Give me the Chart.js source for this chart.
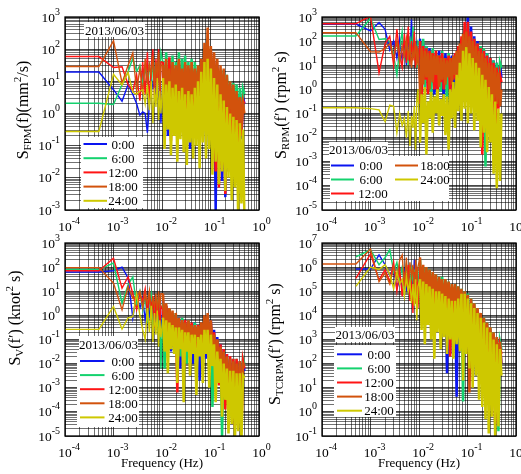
<!DOCTYPE html>
<html lang="en">
<head>
<meta charset="UTF-8">
<title>Spectra 2013/06/03</title>
<style>
  body { margin: 0; background: #fff; }
  .wrap { position: relative; width: 521px; height: 474px; }
  canvas { position: absolute; left: 0; top: 0; }
</style>
</head>
<body>
<div class="wrap">
  <canvas id="fpm" width="521" height="474"></canvas>
  <canvas id="rpm" width="521" height="474"></canvas>
  <canvas id="vel" width="521" height="474"></canvas>
  <canvas id="tcr" width="521" height="474"></canvas>
</div>
<script src="https://cdn.jsdelivr.net/npm/chart.js@4.4.1/dist/chart.umd.min.js"></script>
<script>
const hours = ['0:00', '6:00', '12:00', '18:00', '24:00'];
const colors = ['#0a14f0', '#14d26e', '#ff1414', '#d2520c', '#cec800'];
const xDecades = [-4, -3, -2, -1, 0];

// frequency (Hz) of every point
const freqs = [0.0001, 0.0005, 0.001, 0.0015, 0.002, 0.0025, 0.003, 0.0035, 0.004, 0.0045,
  0.005, 0.0055, 0.006, 0.0065, 0.007, 0.0075, 0.008, 0.0085, 0.009, 0.0095,
  0.0105, 0.0113, 0.0122, 0.0132, 0.0142, 0.0153, 0.0165, 0.0178, 0.0192, 0.0207,
  0.0223, 0.024, 0.026, 0.028, 0.03, 0.0325, 0.035, 0.0378, 0.0408, 0.044,
  0.0475, 0.0512, 0.0553, 0.0597, 0.0644, 0.0695, 0.075, 0.081, 0.0873, 0.0942,
  0.1017, 0.1097, 0.1184, 0.1278, 0.138, 0.149, 0.161, 0.173, 0.187, 0.202,
  0.218, 0.235, 0.254, 0.274, 0.296, 0.319, 0.345, 0.372, 0.402, 0.434,
  0.468, 0.5];

// spectra, given as log10 of S(f), one array per time
// S_FPM
const fpm00 = [1.29, 1.29, 0.74, 0.38, 0.9, 0.6, 0.3, -0.05, 0.05, 0.0, -0.6, 0.3, 1.1, 0.8, 1.0, 0.4, 0.9, 0.2, 0.9, -0.3,
  1.3, -0.2, 1.4, -0.7, 1.2, 0.0, 1.5, -0.3, 1.3, 0.2, 1.4, -0.5, 1.2, 0.0, 1.3, -0.4, 1.1, -1.1, 1.2, -0.3,
  1.1, -0.5, 1.2, -0.9, 1.4, -0.2, 1.8, -1.0, 2.1, -0.4, 1.9, -0.6, 1.6, -3.0, 1.5, -1.5, 1.3, -2.1, 1.2, -2.6,
  1.0, -1.8, 0.9, -1.5, 0.8, -1.2, 0.7, -1.0, 0.6, -0.8, 0.5, 0.3];
const fpm06 = [0.32, 0.32, 0.28, 0.9, 1.3, 1.72, 1.3, 1.5, 0.9, 1.4, 1.0, 1.6, 0.7, 1.8, 1.0, 1.5, 0.5, 1.7, 0.8, 1.9,
  1.6, 0.2, 1.9, -0.4, 1.7, 0.4, 1.8, 0.0, 1.6, 0.5, 1.9, 0.1, 1.7, 0.3, 1.8, -0.2, 1.6, 0.2, 1.7, 0.0,
  1.6, 0.3, 1.5, -0.1, 1.5, 0.4, 1.6, 0.2, 1.7, 0.5, 1.6, 0.3, 1.5, 0.2, 1.4, 0.0, 1.3, -0.3, 1.35, 0.1,
  1.2, -0.2, 1.0, -0.4, 0.95, -0.3, 0.9, -0.6, 0.8, -0.5, 0.75, 0.6];
const fpm12 = [1.77, 1.77, 1.43, 1.45, 0.9, 0.7, 1.2, 0.4, 1.6, 0.6, 1.9, 0.3, 1.5, 2.0, 0.5, 1.7, 0.8, 2.0, 0.2, 1.6,
  1.6, -0.3, 1.4, 0.4, 1.75, -0.85, 1.5, 0.2, 1.4, -0.5, 1.6, 0.3, 1.3, -0.2, 1.5, 0.1, 1.4, -0.6, 1.3, 0.2,
  1.2, -0.3, 1.3, 0.0, 1.5, -0.4, 1.9, 0.2, 2.2, -0.5, 1.9, -1.2, 1.6, -1.8, 1.4, -2.3, 1.2, -1.6, 1.1, -2.5,
  0.9, -1.4, 0.8, -1.0, 0.7, -0.9, 0.6, -1.2, 0.5, -0.7, 0.4, 0.3];
const fpm18 = [1.46, 1.46, 2.26, 0.95, 1.5, 1.88, 0.7, 1.4, 0.6, 1.7, 0.9, 1.5, 1.2, 1.8, 0.8, 1.6, 1.1, 1.9, 0.7, 1.5,
  1.5, 0.3, 1.7, 0.5, 1.4, 0.1, 1.6, 0.4, 1.5, 0.2, 1.7, 0.5, 1.4, 0.0, 1.6, 0.4, 1.5, 0.2, 1.6, 0.5,
  1.4, 0.3, 1.5, 0.6, 1.7, 0.4, 2.2, 0.8, 2.67, 0.6, 2.1, 0.5, 1.9, 0.4, 1.7, 0.3, 1.5, 0.2, 1.4, 0.1,
  1.2, 0.0, 1.0, -0.2, 0.9, -0.3, 0.7, -0.4, 0.5, -0.5, 0.3, 0.0];
const fpm24 = [-0.56, -0.56, 1.22, 0.89, 1.28, 0.66, 0.6, 0.7, 0.74, 0.3, 0.9, 0.1, 1.0, -0.3, 0.8, 0.2, 1.1, -0.2, 0.7, 0.0,
  1.1, -1.1, 0.9, -0.5, 1.0, -1.3, 0.8, -0.7, 0.9, -1.5, 0.7, -0.8, 0.8, -1.2, 0.6, -1.6, 0.7, -0.9, 0.6, -1.4,
  0.8, -1.0, 1.0, -1.7, 1.3, -0.9, 1.6, -1.4, 1.7, -1.1, 1.4, -1.9, 1.1, -1.5, 0.9, -2.2, 0.6, -1.8, 0.4, -2.4,
  0.2, -2.0, 0.0, -2.7, -0.1, -2.3, -0.2, -3.2, -0.3, -2.8, -0.5, -3.2];

// S_RPM
const rpm00 = [2.71, 2.71, 2.42, 2.77, 2.49, 1.63, 2.0, 1.3, 2.1, 1.2, 1.8, 1.0, 2.3, 1.4, 2.9, 1.5, 2.2, 1.1, 2.0, 1.3,
  2.1, 0.3, 1.9, 0.8, 1.8, 0.0, 1.7, 0.6, 1.6, -0.2, 1.5, 0.4, 1.6, 0.1, 1.4, -0.3, 1.5, 0.5, 1.3, 0.0,
  1.4, -0.4, 1.5, 0.2, 1.7, -0.2, 2.0, 0.5, 2.5, 0.3, 3.0, 0.6, 2.6, 0.2, 2.2, -0.5, 2.0, 0.0, 1.8, -0.6,
  1.6, -0.2, 1.5, -1.0, 1.3, -0.4, 1.2, -1.2, 1.1, -0.6, 1.0, 0.5];
const rpm06 = [2.21, 2.21, 2.95, 2.07, 2.1, 1.98, 1.4, 0.6, 1.7, 2.4, 1.2, 2.0, 1.0, 2.2, 1.5, 2.6, 1.3, 1.9, 0.9, 2.0,
  1.9, 0.5, 2.1, 0.0, 1.8, 0.7, 1.6, -0.3, 1.7, 0.3, 1.5, 0.8, 1.4, -0.1, 1.6, 0.4, 1.3, -0.5, 1.5, 0.2,
  1.3, 0.5, 1.4, -0.2, 1.6, 0.3, 2.1, 0.6, 2.6, 0.1, 2.7, 0.4, 2.3, -0.3, 2.1, 0.2, 1.9, -0.5, 1.8, 0.0,
  1.7, -3.2, 1.5, -0.8, 1.3, -0.3, 1.2, -1.5, 1.1, -0.7, 1.1, 0.9];
const rpm12 = [2.72, 2.72, 3.04, 0.69, 1.89, 2.2, 1.0, 2.5, 1.4, 0.93, 2.3, 1.1, 2.6, 1.0, 2.0, 1.2, 2.4, 0.9, 1.8, 1.1,
  2.0, -0.3, 1.8, 0.4, 1.7, -0.2, 1.6, 0.5, 1.5, 0.0, 1.6, -0.3, 1.4, 0.3, 1.5, 0.0, 1.3, 0.6, 1.4, -0.2,
  1.3, 0.4, 1.5, 0.1, 1.8, 0.5, 2.2, 0.2, 2.8, 0.6, 2.8, 0.3, 2.4, 0.0, 2.1, -0.4, 1.9, 0.1, 1.7, -2.7,
  1.6, -0.6, 1.4, -1.0, 1.3, -0.5, 1.1, -2.6, 0.9, -0.8, 0.6, 0.3];
const rpm18 = [2.35, 2.35, 1.56, 1.55, 1.7, 1.9, 1.3, 2.0, 1.1, 1.8, 1.4, 2.1, 1.2, 1.9, 0.9, 1.6, 1.3, 2.0, 1.0, 1.7,
  -0.6, 1.7, 0.2, 1.6, 0.5, 1.5, 0.0, 1.5, 0.3, 1.4, 0.6, 1.4, 0.1, 1.3, 0.4, 1.3, 0.2, 1.2, 0.5, 1.3,
  0.2, 1.4, 0.6, 1.6, 0.3, 1.9, 0.8, 2.3, 0.7, 2.4, 0.5, 2.2, 0.4, 2.0, 0.3, 1.8, 0.1, 1.6, 0.0, 1.5,
  -0.1, 1.3, -0.3, 1.1, -0.4, 1.0, -0.5, 0.9, -0.6, 0.7, -0.7, 0.0];
const rpm24 = [-0.76, -0.76, -0.8, -0.85, -1.34, -0.65, -0.7, -1.8, -1.0, -1.5, -1.2, -2.0, -0.9, -2.35, -1.1, -1.6, -0.7, -2.5, -0.5, 0.0,
  -2.2, -0.2, -1.4, 0.1, -2.7, -0.5, -1.2, -0.1, -1.8, -0.3, -1.0, 0.0, -1.5, -0.4, -1.1, -0.2, -1.9, -0.3, -2.5, 0.0,
  -1.2, 0.3, -1.6, 0.6, -0.9, 1.1, -1.3, 1.6, -0.8, 1.75, -1.4, 1.5, -1.0, 1.3, -1.7, 1.1, -1.3, 0.9, -2.4, 0.6,
  -1.8, 0.4, -2.6, 0.1, -2.2, -0.2, -3.5, -0.5, -4.1, -0.8, -3.8, -1.0];

// S_V
const vel00 = [1.8, 1.8, 1.85, 2.0, 1.55, -0.1, 0.9, 0.3, 0.7, -0.2, 0.5, 0.0, 0.8, -0.4, 0.6, -0.6, 0.4, -0.3, 0.5, -0.8,
  0.6, -1.2, 0.4, -0.8, 0.3, -1.5, 0.1, -1.0, 0.0, -1.6, -0.1, -2.2, -0.2, -1.3, -0.3, -1.8, -0.2, -1.4, -0.4, -2.0,
  -0.3, -1.5, -0.5, -2.7, -0.4, -1.6, -0.2, -1.8, -0.3, -1.2, -0.2, -1.9, -0.6, -2.1, -0.9, -2.6, -1.2, -3.0, -1.4, -3.3,
  -1.6, -3.6, -1.8, -4.0, -1.9, -3.8, -1.9, -4.3, -1.9, -4.1, -1.9, -2.3];
const vel06 = [1.9, 1.9, 2.17, 0.5, 1.27, 1.6, 0.4, 1.0, 0.2, 0.8, -0.3, 0.6, 0.9, -0.5, 0.5, 0.0, 0.7, -0.7, 0.3, -2.2,
  0.5, -2.2, 0.2, -1.2, 0.3, -0.9, 0.0, -1.5, 0.1, -1.0, -0.2, -1.7, -0.1, -1.1, -0.3, -2.0, -0.2, -1.3, -0.4, -1.6,
  -0.3, -2.4, -0.4, -1.4, -0.3, -1.8, -0.1, -1.2, -0.2, -2.2, -0.4, -3.8, -0.8, -2.0, -1.0, -2.8, -1.3, -5.0, -1.5, -3.2,
  -1.7, -3.5, -1.8, -4.2, -1.8, -3.6, -1.8, -4.0, -1.9, -3.7, -1.8, -2.0];
const vel12 = [1.85, 1.85, 2.37, 1.13, 1.6, 0.9, 0.23, 0.9, 0.6, 1.1, 0.0, 0.9, 0.3, 0.8, -0.5, 0.6, -0.2, 0.7, -0.6, 0.4,
  0.2, -1.0, 0.4, -0.6, 0.1, -1.3, 0.0, -0.9, -0.1, -3.2, -0.2, -1.1, -0.3, -1.5, -0.2, -1.0, -0.4, -1.6, -0.3, -1.2,
  -0.5, -1.8, -0.4, -1.3, -0.3, -1.7, -0.1, -1.4, -0.1, -2.0, -0.3, -1.6, -0.7, -2.4, -1.0, -2.9, -1.2, -3.4, -1.4, -3.9,
  -1.6, -4.4, -1.7, -3.8, -1.8, -4.6, -1.8, -4.2, -1.9, -4.8, -1.9, -2.2];
const vel18 = [1.98, 1.98, 1.34, 0.23, 1.2, 0.7, 0.75, 1.0, 0.3, 0.9, 0.5, 1.0, -0.2, 0.7, 0.4, 0.9, 0.0, 1.0, 0.3, 0.9,
  0.9, -0.6, 0.5, -1.0, 0.3, -0.4, 0.2, -1.2, 0.1, -0.8, -0.1, -1.3, -0.2, -0.9, -0.3, -1.4, -0.2, -1.0, -0.4, -1.4,
  -0.4, -1.1, -0.45, -1.4, -0.3, -1.2, 0.0, -1.0, 0.1, -1.3, -0.2, -1.5, -0.8, -2.0, -1.0, -2.4, -1.3, -2.8, -1.5, -3.2,
  -1.7, -3.6, -1.8, -3.9, -1.9, -4.2, -2.0, -4.5, -1.9, -4.8, -2.0, -2.1];
const vel24 = [-0.58, -0.58, 0.37, -0.57, -0.1, -0.05, 0.9, 0.0, -0.6, -1.0, 0.3, -0.7, 0.4, -1.1, 0.1, -0.8, 0.2, -1.3, -0.2, -0.9,
  -0.1, -1.5, -0.2, -2.4, -0.3, -1.4, -0.4, -1.6, -0.5, -2.8, -0.5, -1.4, -0.6, -3.6, -0.7, -1.5, -0.7, -2.5, -0.8, -1.6,
  -0.8, -3.3, -0.9, -1.7, -0.8, -2.8, -0.6, -1.6, -0.6, -3.0, -0.8, -2.1, -1.2, -3.6, -1.5, -2.8, -1.8, -4.2, -2.0, -3.5,
  -2.2, -4.9, -2.3, -4.5, -2.3, -5.2, -2.4, -4.8, -2.4, -5.3, -2.5, -2.6];

// S_TCRPM
const tcr00 = [null, 5.92, 5.92, 6.51, 6.1, 5.68, 5.9, 5.12, 5.5, 5.2, 5.8, 5.0, 6.0, 5.3, 5.7, 4.9, 6.3, 5.2, 5.6, 4.6,
  5.9, 4.3, 5.7, 4.8, 5.6, 4.1, 5.5, 4.6, 5.4, 3.9, 5.3, 4.4, 5.2, 3.6, 5.1, 4.2, 5.0, 1.6, 4.9, 2.4,
  4.8, 3.5, 4.8, 0.63, 4.9, 2.5, 5.0, 3.2, 4.8, 2.6, 4.6, 3.0, 4.4, 2.2, 4.2, 1.5, 4.0, 2.1, 3.8, 1.0,
  3.6, 1.4, 3.4, 0.5, 3.2, 0.8, 3.0, 0.2, 2.9, 0.4, 2.8, 2.0];
const tcr06 = [null, 6.42, 6.72, 6.1, 6.4, 6.72, 5.82, 6.2, 5.5, 6.0, 5.3, 6.1, 5.6, 5.0, 6.0, 5.4, 5.9, 4.9, 5.8, 5.2,
  6.3, 4.5, 6.0, 5.0, 6.0, 4.2, 5.9, 4.7, 5.8, 4.0, 5.7, 4.6, 5.6, 3.8, 5.6, 4.4, 5.5, 3.4, 5.4, 4.1,
  5.3, 3.2, 5.3, 3.9, 5.2, 3.0, 5.1, 0.43, 5.0, 3.5, 4.9, 2.8, 4.7, 3.2, 4.5, 2.3, 4.3, 2.8, 4.1, 1.9,
  3.9, 2.4, 3.7, 1.2, 3.5, 2.0, 3.3, 0.6, 3.1, -0.8, 2.9, 2.6];
const tcr12 = [null, 5.53, 6.55, 5.47, 5.89, 5.4, 6.2, 5.0, 5.9, 4.8, 5.7, 5.3, 6.1, 4.6, 5.5, 4.1, 5.8, 4.5, 6.0, 4.3,
  6.0, 4.6, 5.7, 4.2, 5.6, 4.8, 5.5, 4.3, 5.4, 4.7, 5.3, 4.0, 5.2, 4.5, 5.2, 3.8, 5.1, 4.3, 5.0, 2.3,
  4.9, 4.0, 4.9, 3.4, 4.9, 3.8, 4.8, 3.2, 4.8, 3.5, 4.6, 2.9, 4.4, 3.2, 4.2, 2.3, 4.0, 2.7, 3.8, 1.8,
  3.6, 2.3, 3.4, 1.1, 3.2, 1.8, 3.0, -0.5, 2.9, 0.9, 2.7, 2.4];
const tcr18 = [6.13, 6.13, 6.75, 5.4, 5.75, 5.3, 6.0, 5.5, 6.3, 6.5, 5.2, 6.4, 5.0, 6.2, 5.6, 6.1, 4.9, 6.3, 5.4, 6.0,
  6.4, 5.0, 6.1, 4.6, 6.0, 5.1, 5.9, 4.7, 5.8, 5.0, 5.7, 4.5, 5.6, 4.8, 5.5, 4.4, 5.5, 4.7, 5.4, 4.3,
  5.3, 4.6, 5.3, 4.2, 5.2, 4.5, 5.1, 4.0, 5.0, 4.3, 4.85, 0.8, 4.7, 3.8, 4.5, 3.5, 4.3, 3.3, 4.1, 3.1,
  3.9, 2.9, 3.7, 2.7, 3.5, 2.5, 3.3, 2.3, 3.1, 2.1, 2.9, 2.0];
const tcr24 = [null, 5.2, 6.0, 5.9, 6.1, 5.7, 5.1, 5.8, 5.3, 5.5, 4.8, 5.6, 5.0, 5.4, 4.5, 5.3, 4.4, 5.5, 3.8, 5.2,
  5.5, 3.4, 5.4, 2.8, 5.3, 3.6, 5.2, 3.0, 5.1, 2.2, 5.0, 3.3, 5.0, 2.6, 4.9, 3.1, 4.8, 2.4, 4.7, 3.0,
  4.6, 2.2, 4.6, 2.8, 4.7, 2.5, 4.9, 1.3, 4.9, 2.4, 4.7, 1.8, 4.5, 1.0, 4.3, 1.5, 4.1, 0.5, 3.9, 0.2,
  3.7, -0.3, 3.5, -0.9, 3.3, -0.2, 3.0, -1.0, 2.8, -0.6, 2.6, 1.5];

const FONT = '"Liberation Serif", "Times New Roman", serif';

function series(logs) {
  const pts = [];
  logs.forEach((v, i) => {
    if (v !== null && i < freqs.length) pts.push({ x: freqs[i], y: Math.pow(10, v) });
  });
  return pts;
}

// decade + minor (2..9) ticks so that every log grid line gets drawn
function ticksFor(decades) {
  const t = [];
  decades.forEach((e, i) => {
    const base = Math.pow(10, e);
    t.push({ value: base, major: true });
    if (i < decades.length - 1) {
      for (let m = 2; m < 10; m++) t.push({ value: m * base, major: false });
    }
  });
  return t;
}

function axis(decades) {
  return {
    type: 'logarithmic',
    min: Math.pow(10, decades[0]),
    max: Math.pow(10, decades[decades.length - 1]),
    afterBuildTicks: s => { s.ticks = ticksFor(decades); },
    ticks: { display: false, autoSkip: false },
    grid: {
      drawTicks: false,
      lineWidth: 0.8,
      color: c => (c.tick && c.tick.major) ? 'rgba(0,0,0,0.9)' : 'rgba(0,0,0,0.7)'
    },
    border: { display: false }
  };
}

function rich(ctx, parts, x, y) {
  let w = 0;
  parts.forEach(p => { ctx.font = (p[1] ? '11px ' : '16px ') + FONT; w += ctx.measureText(p[0]).width; });
  let cx = x - w / 2;
  parts.forEach(p => {
    ctx.font = (p[1] ? '11px ' : '16px ') + FONT;
    const dy = p[1] === -1 ? 3 : (p[1] === 1 ? -7 : 0);
    ctx.fillText(p[0], cx, y + dy);
    cx += ctx.measureText(p[0]).width;
  });
}

const decor = {
  id: 'decor',
  afterDraw(chart) {
    const cfg = chart.options.plugins.decor;
    const ctx = chart.ctx, a = chart.chartArea;
    const xs = chart.scales.x, ys = chart.scales.y;
    ctx.save();
    ctx.strokeStyle = '#000';
    ctx.lineWidth = 1.3;
    ctx.strokeRect(a.left, a.top, a.right - a.left, a.bottom - a.top);
    ctx.fillStyle = '#000';
    ctx.textBaseline = 'alphabetic';

    xDecades.forEach(e => {
      const px = xs.getPixelForValue(Math.pow(10, e));
      ctx.font = '13.5px ' + FONT;
      ctx.textAlign = 'center';
      const w = ctx.measureText('10').width;
      ctx.fillText('10', px, a.bottom + 21);
      ctx.font = '10px ' + FONT;
      ctx.textAlign = 'left';
      ctx.fillText(String(e), px + w / 2, a.bottom + 14);
    });

    cfg.yDecades.forEach(e => {
      const py = ys.getPixelForValue(Math.pow(10, e));
      ctx.textAlign = 'right';
      ctx.font = '10px ' + FONT;
      const sw = ctx.measureText(String(e)).width;
      ctx.fillText(String(e), a.left - 5, py - 2.5);
      ctx.font = '13.5px ' + FONT;
      ctx.fillText('10', a.left - 5 - sw, py + 4.5);
    });

    // y axis title
    ctx.save();
    ctx.translate(cfg.title.x, cfg.title.y);
    ctx.rotate(-Math.PI / 2);
    ctx.textAlign = 'left';
    rich(ctx, cfg.title.parts, 0, 0);
    ctx.restore();

    if (cfg.freqTitle) {
      ctx.font = '13px ' + FONT;
      ctx.textAlign = 'center';
      ctx.fillText('Frequency (Hz)', (a.left + a.right) / 2, 467);
    }

    // date label
    const d = cfg.date;
    ctx.fillStyle = '#fff';
    ctx.fillRect(d.box[0], d.box[1], d.box[2], d.box[3]);
    ctx.fillStyle = '#000';
    ctx.font = '13px ' + FONT;
    ctx.textAlign = 'center';
    ctx.fillText('2013/06/03', d.tx, d.ty);

    // legend
    const L = cfg.legend;
    ctx.fillStyle = '#fff';
    ctx.fillRect(L.box[0], L.box[1], L.box[2], L.box[3]);
    chart.data.datasets.forEach((ds, i) => {
      const it = L.items[i];
      ctx.strokeStyle = ds.borderColor;
      ctx.lineWidth = 2;
      ctx.beginPath();
      ctx.moveTo(it[0], it[3]);
      ctx.lineTo(it[1], it[3]);
      ctx.stroke();
      ctx.fillStyle = '#000';
      ctx.font = '13px ' + FONT;
      ctx.textAlign = 'center';
      ctx.fillText(ds.label, it[2], it[3] + 4.5);
    });
    ctx.restore();
  }
};

function column(x0, x1, tx, y0, dy) {
  return [0, 1, 2, 3, 4].map(i => [x0, x1, tx, y0 + i * dy]);
}

function makePanel(id, data, yDecades, pad, extra) {
  const datasets = data.map((logs, i) => ({
    label: hours[i],
    data: series(logs),
    borderColor: colors[i],
    backgroundColor: colors[i],
    borderWidth: 1.4,
    pointRadius: 0,
    tension: 0,
    order: 5 - i,
    // the dense part of the spectrum is drawn a bit heavier so it reads as a band
    segment: { borderWidth: c => (c.p0.parsed.x >= 0.0104 ? 2.5 : 1.4) }
  }));
  new Chart(document.getElementById(id), {
    type: 'line',
    data: { datasets },
    options: {
      responsive: false,
      animation: false,
      events: [],
      layout: { padding: pad },
      plugins: {
        legend: { display: false },
        tooltip: { enabled: false },
        decor: Object.assign({ yDecades }, extra)
      },
      scales: { x: axis(xDecades), y: axis(yDecades) }
    },
    plugins: [decor]
  });
}

makePanel('fpm', [fpm00, fpm06, fpm12, fpm18, fpm24], [-3, -2, -1, 0, 1, 2, 3],
  { left: 65, top: 17, right: 262, bottom: 264 },
  {
    title: { x: 28, y: 110, parts: [['S', 0], ['FPM', -1], ['(f)(mm', 0], ['2', 1], ['/s)', 0]] },
    date: { box: [84, 22, 61, 15], tx: 114.5, ty: 34.5 },
    legend: { box: [81, 137, 62, 71], items: column(83.5, 107, 123, 144, 14.2) }
  });

makePanel('rpm', [rpm00, rpm06, rpm12, rpm18, rpm24], [-5, -4, -3, -2, -1, 0, 1, 2, 3],
  { left: 322, top: 17, right: 5, bottom: 264 },
  {
    title: { x: 286, y: 105, parts: [['S', 0], ['RPM', -1], ['(f\u2032) (rpm', 0], ['2', 1], [' s)', 0]] },
    date: { box: [329, 142, 59, 14], tx: 358.5, ty: 153.5 },
    legend: {
      box: [330, 156, 119, 45],
      items: [[331, 354, 371, 165.5], [331, 354, 371, 179.5], [331, 354, 373, 193.5],
              [395, 418, 435, 165.5], [395, 418, 435, 179.5]]
    }
  });

makePanel('vel', [vel00, vel06, vel12, vel18, vel24], [-5, -4, -3, -2, -1, 0, 1, 2, 3],
  { left: 65, top: 243, right: 262, bottom: 38 },
  {
    title: { x: 20, y: 318, parts: [['S', 0], ['V', -1], ['(f\u2032) (knot', 0], ['2', 1], [' s)', 0]] },
    freqTitle: true,
    date: { box: [79, 336, 59, 15], tx: 108.5, ty: 348.5 },
    legend: { box: [77, 351, 62, 76], items: column(80, 104.5, 123, 361, 14.1) }
  });

makePanel('tcr', [tcr00, tcr06, tcr12, tcr18, tcr24], [-1, 0, 1, 2, 3, 4, 5, 6, 7],
  { left: 322, top: 243, right: 5, bottom: 38 },
  {
    title: { x: 280, y: 344, parts: [['S', 0], ['TCRPM', -1], ['(f\u2032) (rpm', 0], ['2', 1], [' s)', 0]] },
    freqTitle: true,
    date: { box: [335, 327, 60, 15], tx: 365, ty: 339 },
    legend: { box: [334, 345, 62, 72], items: column(337, 362, 379, 354.3, 14.1) }
  });
</script>
</body>
</html>
